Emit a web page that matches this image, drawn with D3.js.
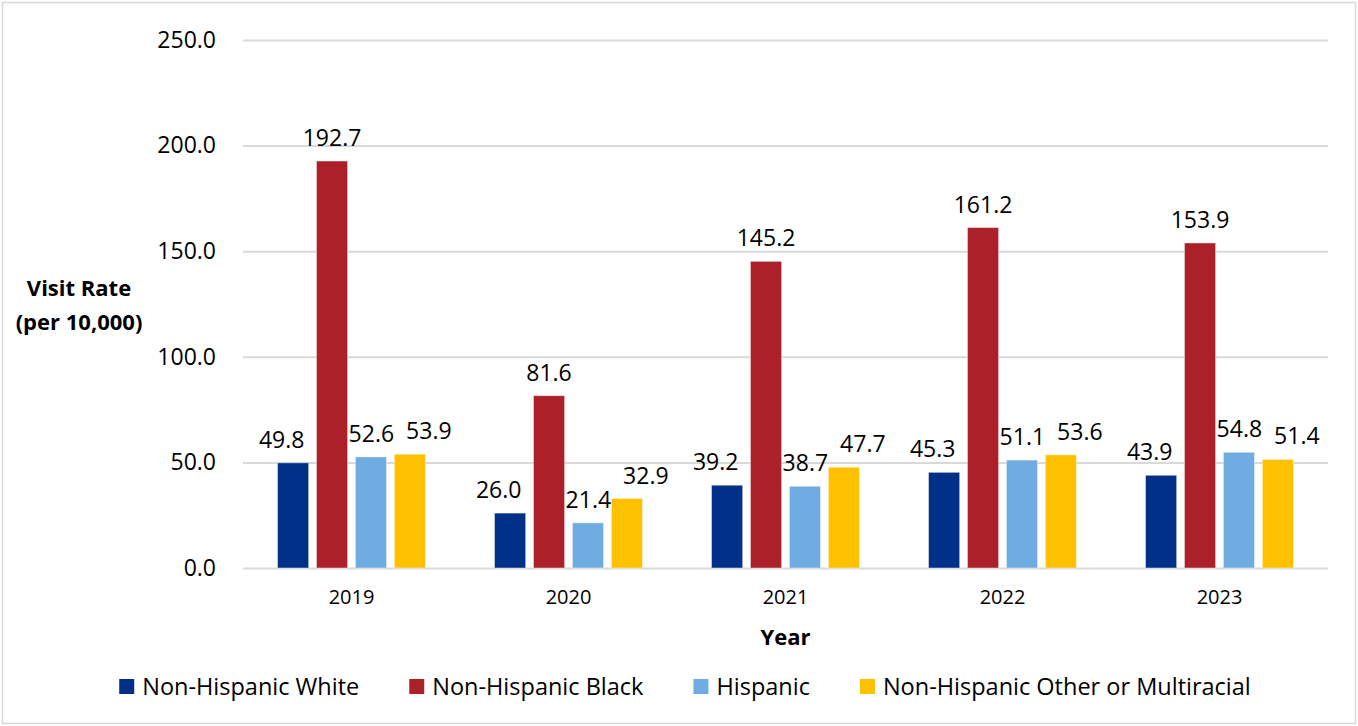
<!DOCTYPE html>
<html>
<head>
<meta charset="utf-8">
<script src="https://cdn.jsdelivr.net/npm/d3@7"></script>
<style>
  html, body { margin: 0; padding: 0; background: #fff; }
  svg { display: block; font-family: "Open Sans", Lato, sans-serif; }
</style>
</head>
<body>
<svg id="chart" width="1358" height="726"></svg>
<script>
const years = ["2019", "2020", "2021", "2022", "2023"];
const seriesNames = ["Non-Hispanic White", "Non-Hispanic Black", "Hispanic", "Non-Hispanic Other or Multiracial"];
const seriesColors = ["#003087", "#AC2029", "#6FACE2", "#FFC000"];
const whiteVals = [49.8, 26.0, 39.2, 45.3, 43.9];
const blackVals = [192.7, 81.6, 145.2, 161.2, 153.9];
const hispanicVals = [52.6, 21.4, 38.7, 51.1, 54.8];
const otherVals = [53.9, 32.9, 47.7, 53.6, 51.4];
const yTicks = [0, 50, 100, 150, 200, 250];
const yTitle = ["Visit Rate", "(per 10,000)"];
const xTitle = "Year";

const seriesVals = [whiteVals, blackVals, hispanicVals, otherVals];
const FONT = "'Open Sans', Lato, sans-serif";

const svg = d3.select("#chart");
const W = 1358, H = 726;

svg.append("rect").attr("x", 2.5).attr("y", 2.5).attr("width", W - 5).attr("height", H - 5)
  .attr("fill", "#fff").attr("stroke", "#d9d9d9").attr("stroke-width", 1.5);

const plot = { left: 243, right: 1328, top: 40, bottom: 568 };

const x0 = d3.scaleBand().domain(years).range([plot.left, plot.right])
  .paddingInner(0.318).paddingOuter(0.159);
const x1 = d3.scaleBand().domain(d3.range(seriesNames.length)).range([0, x0.bandwidth()])
  .paddingInner(0.2).paddingOuter(0);
const y = d3.scaleLinear().domain([0, 250]).range([plot.bottom, plot.top]);

// gridlines + tick labels
const yAxis = d3.axisLeft(y).tickValues(yTicks).tickFormat(d3.format(".1f"))
  .tickSize(-(plot.right - plot.left)).tickPadding(27);
const gy = svg.append("g").attr("transform", `translate(${plot.left},0)`).call(yAxis);
gy.select(".domain").remove();
gy.selectAll(".tick line").attr("stroke", "#d9d9d9").attr("stroke-width", 2);
gy.selectAll(".tick text").attr("font-size", 23).attr("fill", "#000")
  .attr("font-family", FONT);

// x axis labels
const xAxis = d3.axisBottom(x0).tickSize(0).tickPadding(22);
const gx = svg.append("g").attr("transform", `translate(0,${plot.bottom})`).call(xAxis);
gx.select(".domain").remove();
gx.selectAll(".tick text").attr("font-size", 20).attr("fill", "#000")
  .attr("font-family", FONT);

// bars + value labels
const LABEL_SIZE = 23, CAP = 17, LABEL_OFF = 15;
const groups = svg.append("g").selectAll("g").data(years).join("g")
  .attr("transform", d => `translate(${x0(d)},0)`);

groups.each(function(yr, yi) {
  const g = d3.select(this);
  const bars = seriesVals.map((vals, si) => {
    const v = vals[yi];
    g.append("rect")
      .attr("x", x1(si)).attr("width", x1.bandwidth())
      .attr("y", y(v)).attr("height", y(0) - y(v))
      .attr("fill", seriesColors[si])
      .attr("stroke", "#ffffff").attr("stroke-opacity", 0.45).attr("stroke-width", 1);
    return { v, left: x1(si), right: x1(si) + x1.bandwidth(), top: y(v) };
  });
  const labels = bars.map((b, si) => {
    const t = g.append("text")
      .attr("text-anchor", "middle")
      .attr("font-size", LABEL_SIZE).attr("fill", "#000")
      .text(d3.format(".1f")(b.v));
    const w = t.node().getComputedTextLength();
    const base = b.top - LABEL_OFF;
    return { t, w, cx: (b.left + b.right) / 2, base, top: base - CAP };
  });
  // keep labels clear of taller neighbouring bars
  labels.forEach((L, i) => {
    const rb = bars[i + 1];
    if (rb && rb.top < L.base) {
      const maxRight = rb.left - 12;
      if (L.cx + L.w / 2 > maxRight) L.cx = maxRight - L.w / 2;
    }
    const lb = bars[i - 1];
    if (lb && lb.top < L.base) {
      const minLeft = lb.right + 1;
      if (L.cx - L.w / 2 < minLeft) L.cx = minLeft + L.w / 2;
    }
  });
  // keep labels clear of each other
  for (let i = 1; i < labels.length; i++) {
    const P = labels[i - 1], L = labels[i];
    const vOverlap = L.top < P.base + 8 && P.top < L.base + 8;
    const minLeft = P.cx + P.w / 2 + 12;
    if (vOverlap && L.cx - L.w / 2 < minLeft) L.cx = minLeft + L.w / 2;
  }
  labels.forEach(L => L.t.attr("x", L.cx).attr("y", L.base));
});

// y title
const yt = svg.append("text").attr("text-anchor", "middle").attr("font-weight", "bold")
  .attr("font-size", 22).attr("fill", "#000");
yt.append("tspan").attr("x", 79).attr("y", 296).text(yTitle[0]);
yt.append("tspan").attr("x", 79).attr("y", 330).text(yTitle[1]);

// x title
svg.append("text").attr("x", (plot.left + plot.right) / 2).attr("y", 645)
  .attr("text-anchor", "middle").attr("font-weight", "bold").attr("font-size", 22)
  .attr("fill", "#000").text(xTitle);

// legend
const legend = svg.append("g");
let cx = 0;
seriesNames.forEach((name, i) => {
  const it = legend.append("g").attr("transform", `translate(${cx},0)`);
  it.append("rect").attr("x", 0).attr("y", 679).attr("width", 15).attr("height", 15)
    .attr("fill", seriesColors[i]);
  const t = it.append("text").attr("x", 23).attr("y", 695).attr("font-size", 23.5)
    .attr("fill", "#000").text(name);
  const w = t.node().getComputedTextLength();
  cx += 23 + w + 50;
});
const totalW = cx - 50;
legend.attr("transform", `translate(${685 - totalW / 2},0)`);
</script>
</body>
</html>
